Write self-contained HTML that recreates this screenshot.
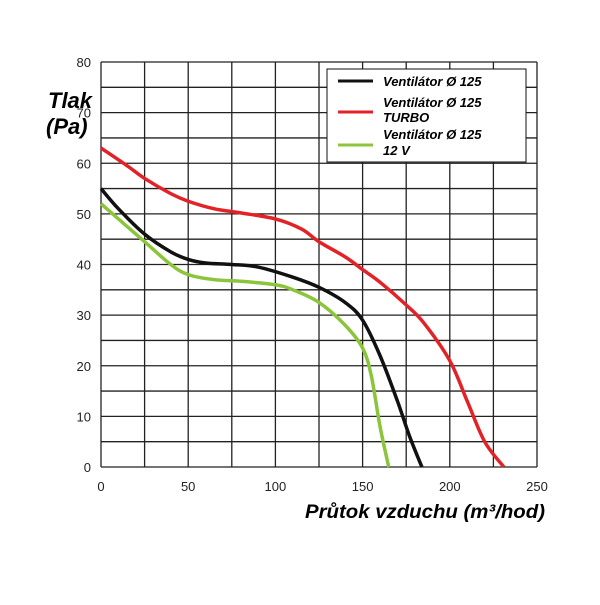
<!DOCTYPE html>
<html><head><meta charset="utf-8"><style>
body{margin:0;background:#fff}
svg text{font-family:"Liberation Sans",sans-serif}
</style></head><body>
<svg id="c" width="600" height="600">
<g id="grid"></g><g id="series"></g><g id="ticks"></g>
<text x="48" y="108" font-size="22" font-weight="bold" font-style="italic">Tlak</text>
<text x="46" y="134" font-size="22" font-weight="bold" font-style="italic">(Pa)</text>
<text x="305" y="518" font-size="19" font-weight="bold" font-style="italic" textLength="240" lengthAdjust="spacingAndGlyphs">Průtok vzduchu (m³/hod)</text>
<g>
<rect x="327" y="69" width="199" height="93" fill="#fff" stroke="#111" stroke-width="1"/>
<line x1="338" y1="81" x2="373" y2="81" stroke="#111" stroke-width="3"/>
<text x="383" y="86" font-size="13" font-weight="bold" font-style="italic">Ventilátor Ø 125</text>
<line x1="338" y1="112" x2="373" y2="112" stroke="#e32228" stroke-width="3"/>
<text x="383" y="107" font-size="13" font-weight="bold" font-style="italic">Ventilátor Ø 125</text>
<text x="383" y="122" font-size="13" font-weight="bold" font-style="italic">TURBO</text>
<line x1="338" y1="145" x2="373" y2="145" stroke="#8cc43c" stroke-width="3"/>
<text x="383" y="139" font-size="13" font-weight="bold" font-style="italic">Ventilátor Ø 125</text>
<text x="383" y="155" font-size="13" font-weight="bold" font-style="italic">12 V</text>
</g>
</svg>
<script>
const xTicks=[0,50,100,150,200,250];
const yTicks=[0,10,20,30,40,50,60,70,80];
const blackX=[0,10,25,40,50,60,75,90,110,125,140,150,160,170,177,184];
const blackY=[55,51,46,42.5,41,40.3,40,39.5,37.5,35.5,32.5,29,22,13,6,0];
const redX=[0,15,25,40,50,65,80,100,115,125,140,150,160,175,185,200,210,220,231];
const redY=[63,59.5,57,54,52.5,51,50.2,49,47,44.5,41.5,39,36.5,32,28.5,21,13,5,0];
const greenX=[0,15,25,40,50,65,80,100,110,125,140,150,155,160,165];
const greenY=[52,47.5,44.5,40,38,37,36.7,36,35,32.5,28,23.5,18,8,0];
const L=101,R=537,T=62,B=467;
const sx=v=>L+(v/250)*(R-L), sy=v=>B-(v/80)*(B-T);
const NS="http://www.w3.org/2000/svg";
const mk=(t,a,p)=>{const e=document.createElementNS(NS,t);for(const k in a)e.setAttribute(k,a[k]);p.appendChild(e);return e;};
const g=document.getElementById('grid'),tk=document.getElementById('ticks'),sr=document.getElementById('series');
for(let v=0;v<=250;v+=25){const l=mk('line',{x1:sx(v),x2:sx(v),y1:T,y2:B,stroke:'#222','stroke-width':1.3},g);

}
for(let v=0;v<=80;v+=5){const l=mk('line',{x1:L,x2:R,y1:sy(v),y2:sy(v),stroke:'#222','stroke-width':1.3},g);

}
xTicks.forEach(v=>{const t=mk('text',{x:sx(v),y:B+24,'font-size':13,'text-anchor':'middle',fill:'#222'},tk);t.textContent=v;

});
yTicks.forEach(v=>{const t=mk('text',{x:L-10,y:sy(v)+5,'font-size':13,'text-anchor':'end',fill:'#222'},tk);t.textContent=v;

});
function path(xs,ys){const p=xs.map((x,i)=>[sx(x),sy(ys[i])]);let d=`M${p[0][0]},${p[0][1]}`;
for(let i=0;i<p.length-1;i++){const p0=p[i-1]||p[i],p1=p[i],p2=p[i+1],p3=p[i+2]||p2;
d+=` C${p1[0]+(p2[0]-p0[0])/6},${p1[1]+(p2[1]-p0[1])/6} ${p2[0]-(p3[0]-p1[0])/6},${p2[1]-(p3[1]-p1[1])/6} ${p2[0]},${p2[1]}`;}return d;}
[[greenX,greenY,'#8cc43c','series-12v'],[blackX,blackY,'#111','series-standard'],[redX,redY,'#e32228','series-turbo']].forEach(([xs,ys,c,n])=>{
const p=mk('path',{d:path(xs,ys),fill:'none',stroke:c,'stroke-width':3.5},sr);

});
</script>
</body></html>
